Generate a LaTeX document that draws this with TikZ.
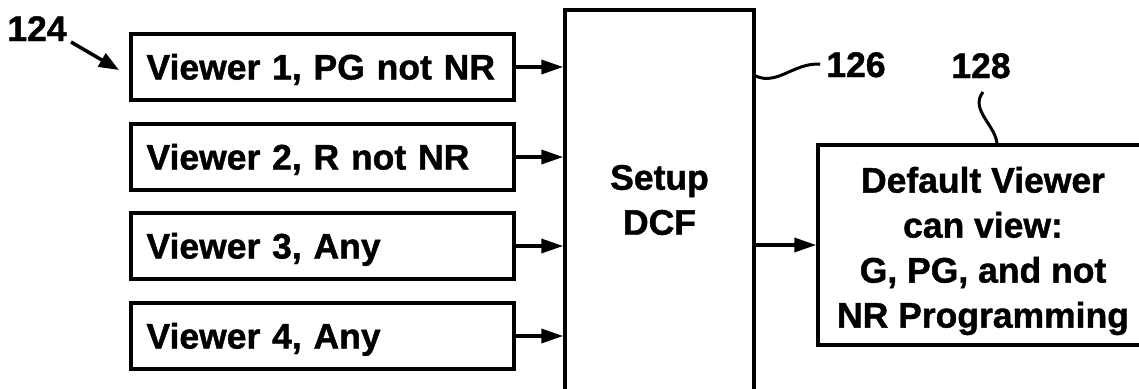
\documentclass[tikz,border=0pt]{standalone}
\usepackage{fontspec}
\setmainfont{Liberation Sans}[BoldFeatures={FakeBold=1.2}]
\usetikzlibrary{arrows.meta}
\begin{document}
\begin{tikzpicture}[x=1pt,y=-1pt,
  box/.style={draw, line width=3.5pt, rectangle, inner sep=0pt},
  txt/.style={font=\bfseries\fontsize{35.5}{45}\selectfont},
  vbox/.style={box, txt, minimum width=383pt, minimum height=66pt, text width=352pt,
               align=left, inner xsep=15.5pt, text height=25pt, text depth=0pt},
  arr/.style={-{Triangle[length=22pt,width=14pt]}, line width=3.5pt},
  lead/.style={line width=3pt},
  lbl/.style={txt, anchor=base, inner sep=0pt}]
\useasboundingbox (0,0) rectangle (1139,388);
\clip (0,0) rectangle (1139,388);

\node[vbox] (v1) at (322.5,67)  {Viewer 1, PG not NR};
\node[vbox] (v2) at (322.5,157) {Viewer 2, R not NR};
\node[vbox] (v3) at (322.5,246) {Viewer 3, Any};
\node[vbox] (v4) at (322.5,336) {Viewer 4, Any};

\node[box, minimum width=189pt, minimum height=400pt] (dcf) at (659.5,210) {};
\node[txt, align=center] (dcft) at (659.5,200) {Setup\\DCF};

\node[box, minimum width=336pt, minimum height=200pt] (def) at (986,245) {};
\node[txt, align=center] (deft) at (983,251) {Default Viewer\\can view:\\G, PG, and not\\NR Programming};

\node[lbl] (l124) at (37,41) {124};
\node[lbl] (l126) at (856,77) {126};
\node[lbl] (l128) at (981,78) {128};

\foreach \v in {v1,v2,v3,v4} \draw[arr] (\v.east) -- (\v.east -| dcf.west);
\draw[arr] (dcf.east |- def.west) -- (def.west);

\coordinate (p124) at (71,42);
\coordinate (t124) at (119,70);
\draw[-{Triangle[length=20pt,width=15pt]}, line width=3.5pt] (p124) -- (t124);

\coordinate (c126) at (dcf.east |- 0,76);
\draw[lead, shorten >=6pt] (c126) .. controls (777,86) and (795,62) .. (l126.west);

\coordinate (c128) at (983,92);
\coordinate (e128) at (997,145);
\draw[lead] (c128) .. controls (969,110) and (997,126) .. (e128);
\end{tikzpicture}
\end{document}
